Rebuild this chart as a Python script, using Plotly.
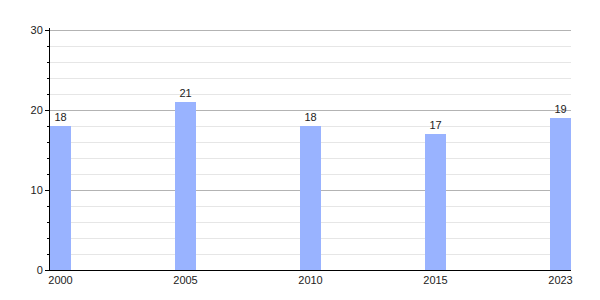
import plotly.graph_objects as go

years = ["2000", "2005", "2010", "2015", "2023"]
values = [18, 21, 18, 17, 19]

fig = go.Figure(
    go.Bar(
        x=years,
        y=values,
        width=0.168,
        marker=dict(color="#99b3ff", line=dict(width=0)),
        text=[str(v) for v in values],
        textposition="outside",
        textfont=dict(size=11, color="#222222"),
        cliponaxis=False,
    )
)

fig.update_layout(
    width=600,
    height=300,
    margin=dict(l=50, r=29, t=28, b=30),
    paper_bgcolor="white",
    plot_bgcolor="white",
    font=dict(family="Liberation Sans, Arial, sans-serif", size=11, color="#222222"),
    showlegend=False,
    xaxis=dict(
        type="category",
        range=[-0.084, 4.084],
        showline=True,
        linecolor="black",
        linewidth=1,
        ticks="",
        showgrid=False,
        tickfont=dict(size=11, color="#222222"),
    ),
    yaxis=dict(
        range=[0, 30.25],
        dtick=10,
        tick0=0,
        showline=True,
        linecolor="black",
        linewidth=1,
        ticks="outside",
        ticklen=4,
        tickcolor="black",
        showgrid=True,
        gridcolor="#b3b3b3",
        zeroline=False,
        tickfont=dict(size=11, color="#222222"),
        minor=dict(
            dtick=2,
            tick0=0,
            ticks="outside",
            ticklen=2,
            tickcolor="black",
            showgrid=True,
            gridcolor="#e6e6e6",
        ),
    ),
)

fig.write_html("out.html")
